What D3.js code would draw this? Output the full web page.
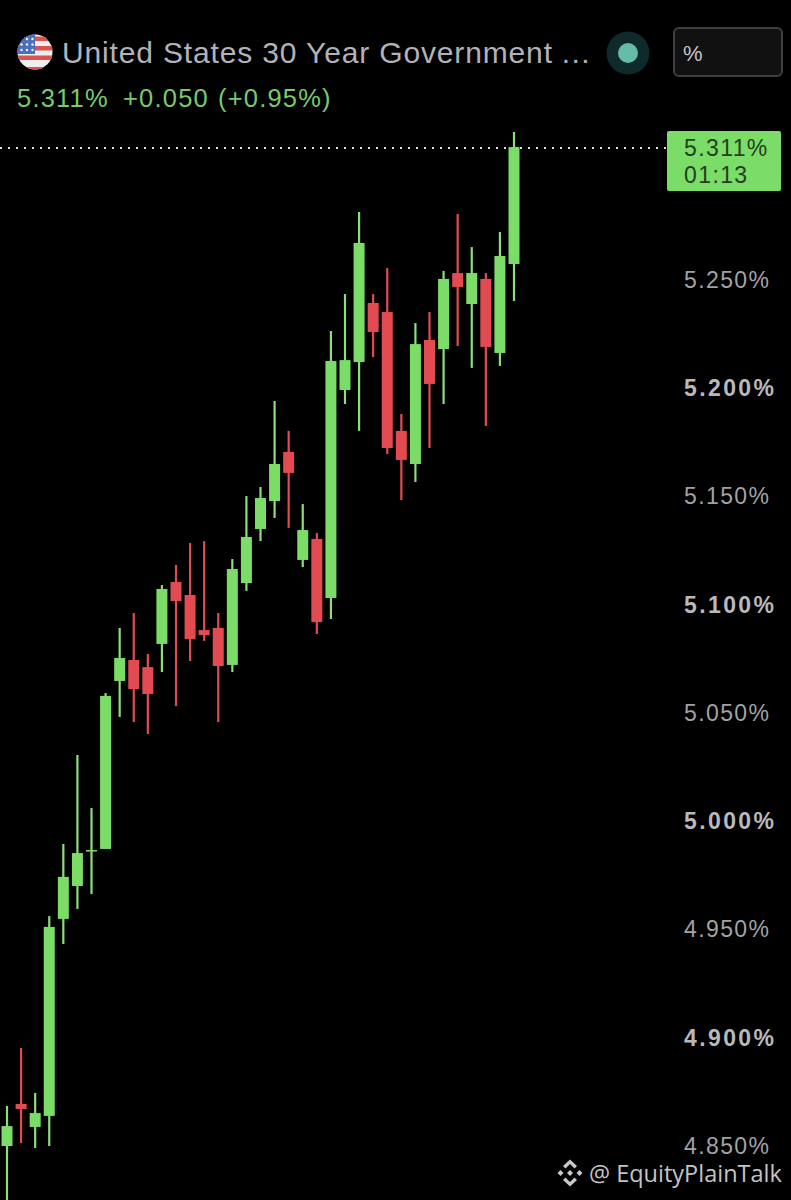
<!DOCTYPE html>
<html>
<head>
<meta charset="utf-8">
<script src="https://cdn.jsdelivr.net/npm/d3@7"></script>
<style>
html, body { margin: 0; padding: 0; background: #000; }
svg { display: block; }
text { font-family: "Liberation Sans", sans-serif; }
</style>
</head>
<body>
<script>
// candles, oldest first
const opens = [4.8500,4.8694,4.8588,4.8639,4.9549,4.9701,4.9863,4.9872,5.0648,5.0745,5.0712,5.0819,5.1105,5.1045,5.0883,5.0893,5.0722,5.1100,5.1350,5.1479,5.1706,5.1207,5.1304,5.1031,5.1992,5.2121,5.2394,5.2352,5.1803,5.1650,5.2223,5.2181,5.2532,5.2389,5.2505,5.2163,5.2574];
const highs = [4.8685,4.8953,4.8745,4.9562,4.9895,5.0306,5.0061,5.0592,5.0893,5.0962,5.0773,5.1091,5.1184,5.1285,5.1294,5.0962,5.1211,5.1502,5.1544,5.1941,5.1803,5.1465,5.1331,5.2264,5.2435,5.2814,5.2435,5.2555,5.1881,5.2301,5.2352,5.2542,5.2805,5.2652,5.2532,5.2722,5.3184];
const lows = [4.8200,4.8514,4.8491,4.8500,4.9433,4.9595,4.9664,4.9872,5.0482,5.0458,5.0403,5.0689,5.0532,5.0740,5.0833,5.0458,5.0689,5.1064,5.1294,5.1401,5.1355,5.1174,5.0865,5.0934,5.1927,5.1803,5.2144,5.1696,5.1484,5.1567,5.1724,5.1927,5.2195,5.2094,5.1826,5.2103,5.2403];
const closes = [4.8592,4.8671,4.8652,4.9512,4.9743,4.9853,4.9867,5.0579,5.0754,5.0611,5.0588,5.1073,5.1017,5.0842,5.0860,5.0717,5.1165,5.1313,5.1493,5.1650,5.1609,5.1345,5.0920,5.2126,5.2130,5.2671,5.2260,5.1724,5.1669,5.2204,5.2020,5.2505,5.2468,5.2532,5.2191,5.2611,5.3114];

const tickValues = [5.25,5.2,5.15,5.1,5.05,5.0,4.95,4.9,4.85];
const boldTicks = [5.2,5.1,5.0,4.9];
const lastPrice = 5.311;

const titleText = "United States 30 Year Government";
const quoteText = ["5.311%", "+0.050", "(+0.95%)"];

const width = 791, height = 1200;
const green = "#7cdc68", greenWick = "#8fdc7e", red = "#e34b52";

const svg = d3.select("body").append("svg")
    .attr("width", width)
    .attr("height", height);

svg.append("rect").attr("width", width).attr("height", height).attr("fill", "#000");

let y = d3.scaleLinear().domain([5.25, 4.85]).range([280, 1146]);
let x = d3.scalePoint().domain(d3.range(opens.length)).range([7, 514]);

// last price dotted line
svg.append("line")
    .attr("x1", 0).attr("x2", 667)
    .attr("y1", y(lastPrice)).attr("y2", y(lastPrice))
    .attr("stroke", "#d5e6cf")
    .attr("stroke-width", 2)
    .attr("stroke-dasharray", "2 6");

// candles
let candles = svg.selectAll(".candle")
    .data(d3.range(opens.length))
    .enter()
    .append("g")
    .attr("class", "candle");

candles.append("line")
    .attr("x1", i => x(i)).attr("x2", i => x(i))
    .attr("y1", i => y(highs[i])).attr("y2", i => y(lows[i]))
    .attr("stroke-width", 2.2)
    .attr("stroke", i => closes[i] >= opens[i] ? greenWick : red);

candles.append("rect")
    .attr("x", i => x(i) - 5.5)
    .attr("width", 11)
    .attr("y", i => y(Math.max(opens[i], closes[i])))
    .attr("height", i => Math.max(1.5, Math.abs(y(opens[i]) - y(closes[i]))))
    .attr("fill", i => closes[i] >= opens[i] ? green : red);

// price axis
let axis = svg.append("g")
    .attr("transform", "translate(684,0)")
    .call(d3.axisRight(y).tickValues(tickValues).tickSize(0).tickPadding(0)
        .tickFormat(d => d3.format(".3f")(d) + "%"));
axis.select(".domain").remove();
axis.selectAll("text")
    .attr("fill", d => boldTicks.includes(d) ? "#b9b9bd" : "#a2a2a6")
    .attr("font-size", 23)
    .attr("letter-spacing", d => boldTicks.includes(d) ? 2.4 : 1.4)
    .attr("font-weight", d => boldTicks.includes(d) ? 700 : 400)
    .style("font-family", "'Liberation Sans', sans-serif");

// last price tag
svg.append("rect")
    .attr("x", 667).attr("y", 131).attr("width", 114).attr("height", 60)
    .attr("rx", 2).attr("fill", green);
let tag = svg.append("g").attr("fill", "#23401e").attr("font-size", 23)
    .attr("letter-spacing", 1.4);
tag.append("text").attr("x", 684).attr("y", 156).text(lastPrice.toFixed(3) + "%");
tag.append("text").attr("x", 684).attr("y", 183).text("01:13");

// flag
let defs = svg.append("defs");
defs.append("clipPath").attr("id", "flagClip")
    .append("circle").attr("cx", 35).attr("cy", 52).attr("r", 17.5);
let flag = svg.append("g").attr("clip-path", "url(#flagClip)");
flag.append("rect").attr("x", 17).attr("y", 34).attr("width", 36).attr("height", 36).attr("fill", "#eeeeee");
d3.range(4).forEach(k => {
    flag.append("rect").attr("x", 17).attr("y", 36.5 + k * 9.5 + (k == 3 ? 2 : 0)).attr("width", 36)
        .attr("height", k == 3 ? 9 : 4.5).attr("fill", "#d9534f");
});
flag.append("rect").attr("x", 17).attr("y", 34).attr("width", 18).attr("height", 20).attr("fill", "#4a6fc0");
d3.range(3).forEach(r => d3.range(3).forEach(c => {
    flag.append("circle").attr("cx", 21.5 + c * 5.5).attr("cy", 39 + r * 5.5).attr("r", 1.2).attr("fill", "#f2f2f2");
}));

// header
let title = svg.append("text")
    .attr("x", 62).attr("y", 63)
    .attr("fill", "#b2b2b8")
    .attr("font-size", 30)
    .attr("letter-spacing", 0.85)
    .text(titleText);
title.append("tspan").attr("dx", 9).attr("letter-spacing", 1.4).text("...");

let quote = svg.append("g").attr("fill", "#79c96b").attr("font-size", 25.5)
    .attr("letter-spacing", 1.2);
[[17, quoteText[0]], [123, quoteText[1]], [218, quoteText[2]]].forEach(q => {
    quote.append("text").attr("x", q[0]).attr("y", 107).text(q[1]);
});

// market status dot
svg.append("circle").attr("cx", 628).attr("cy", 53).attr("r", 21.5).attr("fill", "#0f2a2a");
svg.append("circle").attr("cx", 628).attr("cy", 53).attr("r", 10).attr("fill", "#63bba8");

// unit box
svg.append("rect")
    .attr("x", 674).attr("y", 28).attr("width", 108).attr("height", 48)
    .attr("rx", 5).attr("fill", "#111").attr("stroke", "#3f3f42").attr("stroke-width", 2);
svg.append("text")
    .attr("x", 683).attr("y", 61).attr("fill", "#c4c4c8").attr("font-size", 22)
    .text("%");

// watermark
let logo = svg.append("g").attr("fill", "#c9c9c9").attr("transform", "translate(570,1173)");
logo.append("path").attr("d", "M-4.5,-4.5 L0,-9 L4.5,-4.5 L7,-7 L0,-13.5 L-7,-7 Z");
logo.append("path").attr("d", "M-4.5,4.5 L0,9 L4.5,4.5 L7,7 L0,13.5 L-7,7 Z");
logo.append("path").attr("d", "M-3,0 L0,-3 L3,0 L0,3 Z");
logo.append("path").attr("d", "M-12.5,0 L-9.5,-3 L-6.5,0 L-9.5,3 Z");
logo.append("path").attr("d", "M12.5,0 L9.5,-3 L6.5,0 L9.5,3 Z");

svg.append("text")
    .attr("x", 589).attr("y", 1182)
    .attr("fill", "#c4c4c4")
    .attr("font-size", 23.5)
    .style("font-family", "'Open Sans', sans-serif")
    .text("@ EquityPlainTalk");
</script>
</body>
</html>
